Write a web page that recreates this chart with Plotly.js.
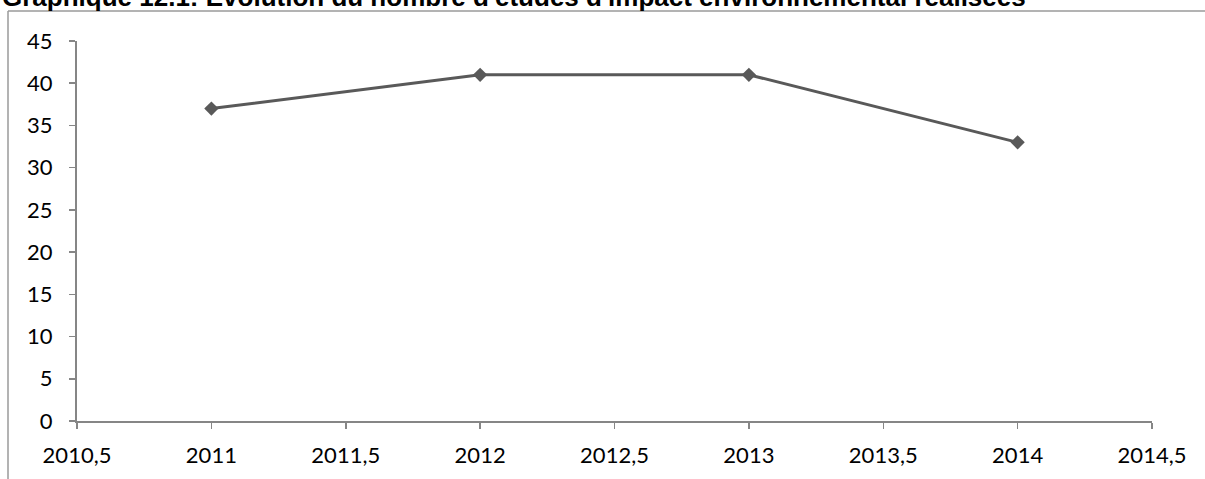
<!DOCTYPE html>
<html><head><meta charset="utf-8">
<script src="https://cdn.plot.ly/plotly-3.0.1.min.js"></script>
<style>html,body{margin:0;padding:0;background:#fff;}#chart{width:1205px;height:479px;}</style>
</head><body><div id="chart"></div>
<script>
const years = [2011, 2012, 2013, 2014];
const studies = [37, 41, 41, 33];
const xTickVals = [2010.5, 2011, 2011.5, 2012, 2012.5, 2013, 2013.5, 2014, 2014.5];
const xTickText = ['2010,5', '2011', '2011,5', '2012', '2012,5', '2013', '2013,5', '2014', '2014,5'];
const chartTitle = "Graphique 12.1: Evolution du nombre d'études d'impact environnemental réalisées";

const W = 1205, H = 479, L = 77, R = 53, T = 41, B = 58;
const pw = W - L - R, ph = H - T - B;
const px = x => (x - L) / pw;
const py = y => (H - B - y) / ph;

const trace = {
  x: years, y: studies, type: 'scatter', mode: 'lines+markers',
  line: {color: '#595959', width: 3},
  marker: {symbol: 'diamond', size: 11, color: '#595959'},
  cliponaxis: false, hoverinfo: 'skip'
};

const tickFont = {family: 'Lato, "Open Sans", sans-serif', size: 22, color: '#000'};
const layout = {
  width: W, height: H,
  margin: {l: L, r: R, t: T, b: B, pad: 0},
  paper_bgcolor: '#fff', plot_bgcolor: '#fff',
  showlegend: false,
  xaxis: {range: [2010.5, 2014.5], tickmode: 'array', tickvals: xTickVals, ticktext: xTickText, showgrid: false, zeroline: false,
    showline: true, linecolor: '#868686', linewidth: 2, ticks: 'outside', ticklen: 6, tickwidth: 1.5, tickcolor: '#868686',
    tickfont: tickFont, ticklabelstandoff: 8},
  yaxis: {range: [0, 45], dtick: 5, showgrid: false, zeroline: false,
    showline: true, linecolor: '#868686', linewidth: 2, ticks: 'outside', ticklen: 6, tickwidth: 1.5, tickcolor: '#868686',
    tickfont: tickFont, ticklabelstandoff: 12},
  shapes: [
    {type: 'line', xref: 'paper', yref: 'paper', x0: px(8), x1: px(8), y0: py(11), y1: py(H + 5), line: {color: '#9a9a9a', width: 1.5}},
    {type: 'line', xref: 'paper', yref: 'paper', x0: px(8), x1: px(W + 5), y0: py(11), y1: py(11), line: {color: '#9a9a9a', width: 1.5}}
  ],
  annotations: [
    {text: '<b>' + chartTitle + '</b>', xref: 'paper', yref: 'paper', x: px(0), y: py(-3), xanchor: 'left', yanchor: 'middle',
      showarrow: false, font: {family: '"Liberation Sans", Arial, sans-serif', size: 26, color: '#000'}}
  ]
};

Plotly.newPlot('chart', [trace], layout, {staticPlot: true, displayModeBar: false});
</script>
</body></html>
